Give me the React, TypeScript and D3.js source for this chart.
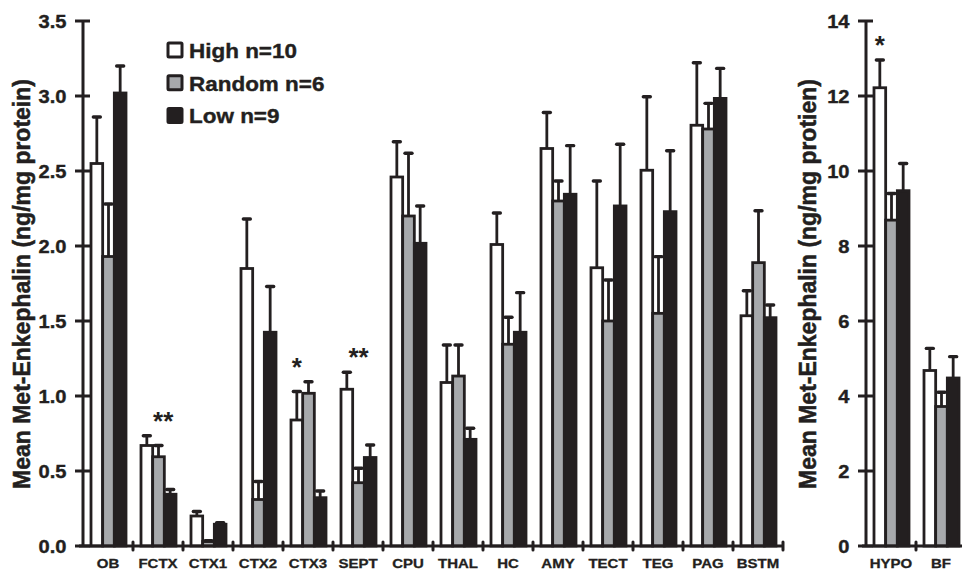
import React from "react";
import * as d3 from "d3";

// Regions shown in the wide panel
const regionsMain = ["OB", "FCTX", "CTX1", "CTX2", "CTX3", "SEPT", "CPU", "THAL", "HC", "AMY", "TECT", "TEG", "PAG", "BSTM"];
const highMain = [2.55, 0.67, 0.2, 1.85, 0.84, 1.045, 2.46, 1.09, 2.01, 2.65, 1.855, 2.505, 2.805, 1.535];
const highMainSem = [0.31, 0.065, 0.03, 0.33, 0.19, 0.113, 0.235, 0.25, 0.21, 0.24, 0.578, 0.49, 0.417, 0.167];
const randomMain = [1.93, 0.595, 0.03, 0.31, 1.018, 0.422, 2.2, 1.133, 1.345, 2.3, 1.5, 1.551, 2.78, 1.889];
const randomMainSem = [0.35, 0.075, 0.005, 0.12, 0.077, 0.096, 0.418, 0.207, 0.18, 0.133, 0.273, 0.378, 0.171, 0.346];
const lowMain = [3.02, 0.345, 0.145, 1.425, 0.322, 0.59, 2.018, 0.711, 1.425, 2.345, 2.267, 2.229, 2.984, 1.522];
const lowMainSem = [0.18, 0.032, 0.01, 0.305, 0.045, 0.083, 0.249, 0.074, 0.264, 0.324, 0.411, 0.406, 0.2, 0.085];

// Regions shown in the narrow panel
const regionsSide = ["HYPO", "BF"];
const highSide = [12.22, 4.68];
const highSideSem = [0.74, 0.59];
const randomSide = [8.69, 3.72];
const randomSideSem = [0.71, 0.38];
const lowSide = [9.475, 4.48];
const lowSideSem = [0.725, 0.57];

const mainTicks = [0, 0.5, 1, 1.5, 2, 2.5, 3, 3.5];
const sideTicks = [0, 2, 4, 6, 8, 10, 12, 14];

const groups = ["High n=10", "Random n=6", "Low n=9"];
const groupFills = ["#ffffff", "#a7a9ac", "#231f20"];

// Significance marks: region, bar index (fractional = between bars), text
const marksMain = [
  { region: "FCTX", bar: 1.4, text: "**" },
  { region: "CTX3", bar: 0, text: "*" },
  { region: "SEPT", bar: 1, text: "**" },
];
const marksSide = [{ region: "HYPO", bar: 0, text: "*" }];

const INK = "#231f20";
const FONT = "'Liberation Sans', Arial, Helvetica, sans-serif";
const X_BASE = 546;

type PanelProps = {
  regions: string[];
  series: number[][];
  sems: number[][];
  ticks: number[];
  yMax: number;
  x0: number;
  x1: number;
  axisEnd: number;
  tickFmt: (v: number) => string;
  marks: { region: string; bar: number; text: string }[];
  title: string;
  titleX: number;
};

function Panel(p: PanelProps) {
  const y = d3.scaleLinear().domain([0, p.yMax]).range([X_BASE, 21]);
  const x = d3.scaleBand<string>().domain(p.regions).range([p.x0, p.x1]).padding(0);
  const inner = d3
    .scaleBand<number>()
    .domain([0, 1, 2])
    .range([8, 8 + 35])
    .padding(0);
  const bw = inner.bandwidth();
  const boundaries = p.regions.map((r) => (x(r) as number) + x.bandwidth());

  return (
    <g>
      {/* bars */}
      {p.series.map((vals, si) =>
        vals.map((v, ci) => {
          const bx = (x(p.regions[ci]) as number) + (inner(si) as number);
          return (
            <rect
              key={`b${si}-${ci}`}
              x={bx}
              y={y(v)}
              width={bw}
              height={X_BASE - y(v)}
              fill={groupFills[si]}
              stroke={INK}
              strokeWidth={2.8}
            />
          );
        })
      )}
      {/* error bars */}
      {p.series.map((vals, si) =>
        vals.map((v, ci) => {
          const cx = (x(p.regions[ci]) as number) + (inner(si) as number) + bw / 2;
          const top = y(v + p.sems[si][ci]);
          return (
            <g key={`e${si}-${ci}`} stroke={INK}>
              <line x1={cx} x2={cx} y1={y(v)} y2={top} strokeWidth={2.8} />
              <line x1={cx - 3.5} x2={cx + 3.5} y1={top} y2={top} strokeWidth={3.4} strokeLinecap="round" />
            </g>
          );
        })
      )}
      {/* y axis */}
      <line x1={p.x0} x2={p.x0} y1={y(p.yMax) - 1} y2={X_BASE + 1} stroke={INK} strokeWidth={3} />
      {p.ticks.map((t) => (
        <g key={`t${t}`}>
          <line x1={p.x0 - 8} x2={p.x0 + 7} y1={y(t)} y2={y(t)} stroke={INK} strokeWidth={3} />
          <text
            transform={`translate(${p.x0 - 16.5},${y(t) + 6.7}) scale(1.07,1)`}
            textAnchor="end"
            fontFamily={FONT}
            fontWeight="bold"
            fontSize={18.8}
            fill={INK}
            stroke={INK}
            strokeWidth={0.4}
          >
            {p.tickFmt(t)}
          </text>
        </g>
      ))}
      {/* x axis */}
      <line x1={p.x0 - 4} x2={p.axisEnd} y1={X_BASE} y2={X_BASE} stroke={INK} strokeWidth={3} />
      {boundaries.map((bx, i) => (
        <line
          key={`xt${i}`}
          x1={bx}
          x2={bx}
          y1={X_BASE - 4}
          y2={X_BASE + 4}
          stroke={INK}
          strokeWidth={3}
          strokeLinecap="round"
        />
      ))}
      {p.regions.map((r) => (
        <text
          key={`xl${r}`}
          transform={`translate(${(x(r) as number) + x.bandwidth() / 2},${X_BASE + 22}) scale(1.2,1)`}
          textAnchor="middle"
          fontFamily={FONT}
          fontWeight="bold"
          fontSize={12.5}
          fill={INK}
          stroke={INK}
          strokeWidth={0.3}
        >
          {r}
        </text>
      ))}
      {/* significance marks */}
      {p.marks.map((m, i) => {
        const ci = p.regions.indexOf(m.region);
        const si = Math.round(m.bar) > 2 ? 2 : Math.round(m.bar);
        const cx = (x(m.region) as number) + 8 + bw * m.bar + bw / 2;
        const tops = p.series.map((s, k) => s[ci] + p.sems[k][ci]);
        const top = y(Math.max(tops[si], ...tops.slice(0, 2)));
        return (
          <text
            key={`m${i}`}
            x={cx}
            y={top - 6}
            textAnchor="middle"
            fontFamily={FONT}
            fontWeight="bold"
            fontSize={26}
            fill={INK}
          >
            {m.text}
          </text>
        );
      })}
      {/* axis title */}
      <text
        transform={`translate(${p.titleX},284) rotate(-90) scale(1,1.07)`}
        textAnchor="middle"
        fontFamily={FONT}
        fontWeight="bold"
        fontSize={23}
        fill={INK}
        stroke={INK}
        strokeWidth={0.5}
      >
        {p.title}
      </text>
    </g>
  );
}

export default function App() {
  return (
    <svg
      width={962}
      height={572}
      viewBox="0 0 962 572"
      style={{ position: "absolute", left: 0, top: 0, background: "#fff" }}
    >
      <Panel
        regions={regionsMain}
        series={[highMain, randomMain, lowMain]}
        sems={[highMainSem, randomMainSem, lowMainSem]}
        ticks={mainTicks}
        yMax={3.5}
        x0={83}
        x1={783}
        axisEnd={783}
        tickFmt={(v) => d3.format(".1f")(v)}
        marks={marksMain}
        title="Mean Met-Enkephalin (ng/mg protein)"
        titleX={29.5}
      />
      <Panel
        regions={regionsSide}
        series={[highSide, randomSide, lowSide]}
        sems={[highSideSem, randomSideSem, lowSideSem]}
        ticks={sideTicks}
        yMax={14}
        x0={866}
        x1={966}
        axisEnd={962}
        tickFmt={(v) => d3.format("d")(v)}
        marks={marksSide}
        title="Mean Met-Enkephalin (ng/mg protien)"
        titleX={816}
      />
      {/* legend */}
      {groups.map((g, i) => (
        <g key={g}>
          <rect
            x={168}
            y={43 + i * 32.7}
            width={14}
            height={14}
            fill={groupFills[i]}
            stroke={INK}
            strokeWidth={3}
            rx={1}
          />
          <text
            transform={`translate(189,${58 + i * 32.7}) scale(1.07,1)`}
            fontFamily={FONT}
            fontWeight="bold"
            fontSize={21}
            fill={INK}
            stroke={INK}
            strokeWidth={0.4}
          >
            {g}
          </text>
        </g>
      ))}
    </svg>
  );
}
